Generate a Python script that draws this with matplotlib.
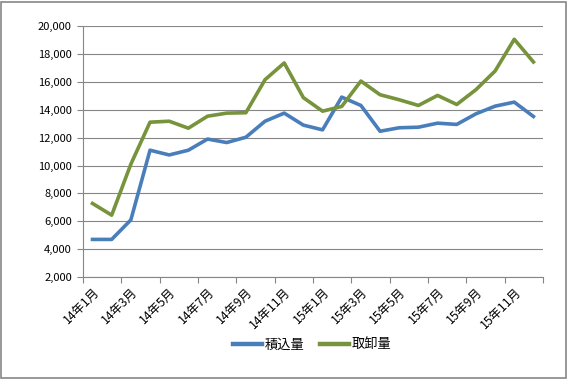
import numpy as np
import matplotlib.pyplot as plt
from matplotlib.ticker import FuncFormatter

plt.rcParams['font.family'] = ['Noto Sans CJK JP', 'DejaVu Sans']

months = [f"{y}年{m}月" for y in (14, 15) for m in range(1, 13)]
loaded = [4700, 4700, 6100, 11100, 10760, 11100, 11900, 11650, 12030, 13180, 13760, 12900,
          12560, 14910, 14310, 12460, 12710, 12750, 13040, 12950, 13710, 14260, 14550, 13520]
unloaded = [7280, 6440, 10100, 13110, 13180, 12680, 13540, 13760, 13790, 16160, 17360, 14870,
            13900, 14240, 16060, 15080, 14720, 14310, 15030, 14380, 15440, 16780, 19060, 17430]
series_names = ["積込量", "取卸量"]
colors = ["#4A7EBB", "#77933C"]

fig = plt.figure(figsize=(5.68, 3.79), dpi=100)
ax = fig.add_axes([0.146, 0.269, 0.81, 0.662])

x = np.arange(len(months))
for vals, name, c in zip([loaded, unloaded], series_names, colors):
    ax.plot(x, vals, color=c, lw=2.6, label=name, solid_joinstyle='round')

ax.set_ylim(2000, 20000)
ax.set_yticks(range(2000, 20001, 2000))
ax.yaxis.set_major_formatter(FuncFormatter(lambda v, p: f"{int(v):,}"))
ax.set_xlim(-0.5, len(months) - 0.5)
ax.set_xticks(np.arange(-0.5, len(months), 2))
ax.set_xticklabels([])
ax.set_xticks(x[::2], minor=True)
ax.set_xticklabels(months[::2], minor=True, rotation=45, ha='right', rotation_mode='anchor')
ax.tick_params(axis='x', which='minor', length=0, pad=6, labelsize=8.8)
ax.tick_params(axis='x', which='major', length=4, color='#868686')
ax.tick_params(axis='y', length=4, color='#868686', labelsize=8, pad=4)

ax.grid(axis='y', color='#868686', lw=0.8)
ax.set_axisbelow(True)
for s in ['top', 'right']:
    ax.spines[s].set_visible(False)
for s in ['left', 'bottom']:
    ax.spines[s].set_color('#868686')
    ax.spines[s].set_linewidth(0.8)

leg = fig.legend(loc='center', bbox_to_anchor=(0.55, 0.09), ncol=2, frameon=False,
                 fontsize=9.5, handlelength=2.2, columnspacing=1.2, handletextpad=0.2)
for line in leg.get_lines():
    line.set_linewidth(3.2)

fig.patches.append(plt.Rectangle((0.002, 0.003), 0.995, 0.993, transform=fig.transFigure,
                                 fill=False, edgecolor='#868686', lw=1.2))

fig.savefig("out.png", dpi=100)
